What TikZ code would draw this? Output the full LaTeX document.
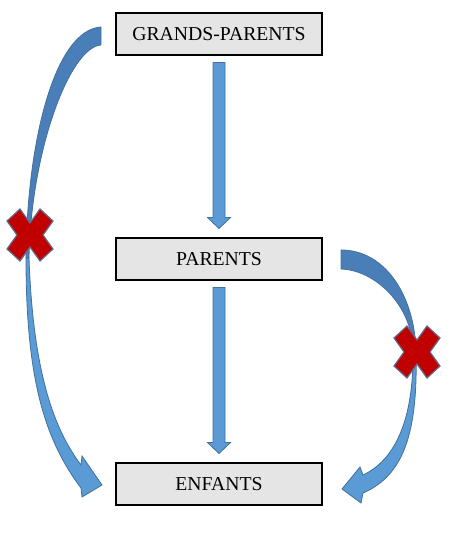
\documentclass[tikz,border=0pt]{standalone}
\usepackage{fontspec}
\setmainfont{Liberation Serif}
\usetikzlibrary{calc}
\definecolor{bleuclair}{RGB}{91,155,213}
\definecolor{bleufonce}{RGB}{74,126,184}
\definecolor{bleubord}{RGB}{65,113,156}
\definecolor{rougecroix}{RGB}{192,0,0}
\definecolor{bordcroix}{RGB}{96,108,140}
\tikzset{
  boite/.style={draw, rectangle, fill=gray!20, line width=2.3pt, outer sep=0pt, inner sep=0pt,
    minimum width=206pt, minimum height=42pt, font=\fontsize{19.7pt}{22pt}\selectfont},
  fleche/.style={fill=bleuclair, draw=bleubord, line width=0.8pt},
  flechedos/.style={fill=bleufonce, draw=bleubord, line width=0.8pt},
  croix/.pic={
    \filldraw[fill=rougecroix, draw=bordcroix, line width=1.2pt]
      (0,-12) -- (10,-26) -- (23,-14) -- (13,0) -- (23,14) -- (10,26) -- (0,12)
      -- (-10,26) -- (-23,14) -- (-13,0) -- (-23,-14) -- (-10,-26) -- cycle;
  }
}
% straight block arrow, from #1 down to the tip #2
\newcommand{\flechebas}[2]{%
  \filldraw[fleche] ($(#1)+(-6,0)$) -- ($(#2)+(-6,-11)$) -- ($(#2)+(-11.5,-11)$) -- (#2)
    -- ($(#2)+(11.5,-11)$) -- ($(#2)+(6,-11)$) -- ($(#1)+(6,0)$) -- cycle;}
\begin{document}
\begin{tikzpicture}[x=1pt, y=-1pt, node distance=225pt]
  \useasboundingbox (0,0) rectangle (460,548);

  \node[boite] (gp) at (219,34) {GRANDS-PARENTS};
  \node[boite, below of=gp] (par) {PARENTS};
  \node[boite, below of=par] (enf) {ENFANTS};

  \coordinate (gp-bas) at ($(gp.south)+(0,7.5)$);
  \coordinate (par-haut) at ($(par.north)+(0,-9.5)$);
  \coordinate (par-bas) at ($(par.south)+(0,7.5)$);
  \coordinate (enf-haut) at ($(enf.north)+(0,-9.5)$);
  \flechebas{gp-bas}{par-haut}
  \flechebas{par-bas}{enf-haut}

  % grands-parents -> enfants (left)
  \filldraw[fleche] (26,258) .. controls (26,380) and (45,440) .. (81,488) -- (82,497) -- (102,485)
    -- (82,456) -- (81,465) .. controls (53,428) and (33,370) .. (29,258) -- cycle;
  \filldraw[flechedos] (101,27) .. controls (55,30) and (27,140) .. (26,258) -- (29,258)
    .. controls (31,150) and (70,47) .. (101,45) -- cycle;

  % parents -> enfants (right)
  \filldraw[fleche] (416,350) .. controls (418,430) and (405,475) .. (363,493) -- (361,503) -- (342,489)
    -- (360,467) -- (363,475) .. controls (395,460) and (414,420) .. (413,350) -- cycle;
  \filldraw[flechedos] (341,250) .. controls (385,250) and (414,295) .. (416,350) -- (413,350)
    .. controls (412,305) and (375,270) .. (341,269) -- cycle;

  \pic at (30,235) {croix};
  \pic at (417,352) {croix};
\end{tikzpicture}
\end{document}
